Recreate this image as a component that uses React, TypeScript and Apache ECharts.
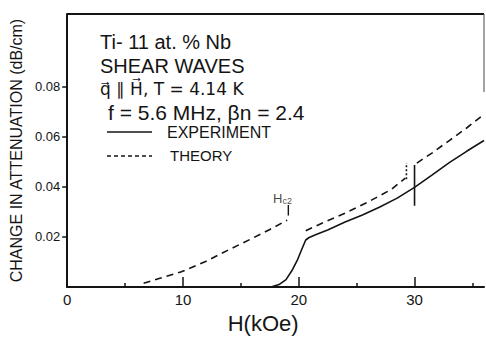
import React, { useEffect, useRef } from 'react';
import * as echarts from 'echarts';

// H (kOe) and change in attenuation (dB/cm)
const expH = [17.6, 18.3, 18.9, 19.4, 19.9, 20.3, 20.6, 20.9, 21.5, 22.5, 24, 25.5, 27, 28.5, 30, 31.5, 33, 34.5, 36];
const expA = [0, 0.001, 0.003, 0.0065, 0.011, 0.0155, 0.0188, 0.0198, 0.021, 0.0228, 0.026, 0.0288, 0.032, 0.0355, 0.0398, 0.0447, 0.0497, 0.0542, 0.0585];

const thH1 = [6.6, 8, 9.8, 12, 14, 16, 17.5, 19];
const thA1 = [0.0015, 0.0035, 0.006, 0.0103, 0.015, 0.0195, 0.023, 0.0267];
const thH2 = [20.6, 22, 24, 26, 28, 29.2];
const thA2 = [0.0225, 0.0255, 0.0295, 0.034, 0.039, 0.0435];
const thH3 = [30.2, 31.5, 33, 34.5, 36];
const thA3 = [0.0495, 0.0535, 0.0585, 0.0635, 0.069];

const hc2H = 19.1;
const hc2Tick = [0.0286, 0.0328];
const hc2Label = [18.6, 0.0352];
const expBarH = 30;
const expBar = [0.0325, 0.0487];
const thBarH = 29.3;
const thBar = [0.043, 0.0495];

const xLabels = [0, 10, 20, 30];
const xMinorTicks = [5, 15, 25, 35];
const xMajorTicks = [10, 20, 30];
const yLabels = [0.02, 0.04, 0.06, 0.08];

const zip = (h: number[], a: number[]) => h.map((x, i) => [x, a[i]]);

const FONT = "'Liberation Sans', Arial, sans-serif";
const SYMFONT = "'DejaVu Sans', 'Liberation Sans', sans-serif";
const INK = '#141414';

export default function App() {
  const ref = useRef<HTMLDivElement>(null);
  useEffect(() => {
    document.body.style.margin = '0';
    const chart = echarts.init(ref.current!, undefined, { renderer: 'svg' });
    const lineSeries = (name: string, data: any[], style: any) => ({
      type: 'line', name, data, symbol: 'none', xAxisIndex: 0, yAxisIndex: 0,
      lineStyle: { color: INK, width: 1.6, ...style }, silent: true,
    });
    chart.setOption({
      animation: false,
      backgroundColor: '#fff',
      textStyle: { fontFamily: FONT, color: INK },
      grid: { left: 67, right: 2, top: 14, bottom: 43 },
      xAxis: [
        {
          type: 'value', min: 0, max: 36, position: 'bottom',
          name: 'H(kOe)', nameLocation: 'middle', nameGap: 17,
          nameTextStyle: { fontSize: 22, color: INK, fontFamily: FONT, padding: [0, 25, 0, 0] },
          axisLine: { show: true, lineStyle: { color: INK, width: 2 } },
          axisTick: { show: true, inside: true, length: 4, customValues: xMinorTicks, lineStyle: { color: INK, width: 1.5 } },
          axisLabel: { show: true, customValues: xLabels, fontSize: 15, margin: 5, color: INK, fontFamily: FONT },
          splitLine: { show: false },
        },
        {
          type: 'value', min: 0, max: 36, position: 'bottom',
          axisLine: { show: false },
          axisTick: { show: true, inside: true, length: 10, customValues: xMajorTicks, lineStyle: { color: INK, width: 1.5 } },
          axisLabel: { show: false },
          splitLine: { show: false },
        },
      ],
      yAxis: {
        type: 'value', min: 0, max: 0.109,
        name: 'CHANGE IN ATTENUATION (dB/cm)', nameLocation: 'middle', nameRotate: 90, nameGap: 37,
        nameTextStyle: { fontSize: 16, color: INK, fontFamily: FONT },
        axisLine: { show: true, lineStyle: { color: INK, width: 2 } },
        axisTick: { show: true, inside: false, length: 5, customValues: yLabels, lineStyle: { color: INK, width: 1.5 } },
        axisLabel: { show: true, customValues: yLabels, fontSize: 13, margin: 7, color: INK, fontFamily: FONT, formatter: (v: number) => v.toFixed(2) },
        splitLine: { show: false },
      },
      series: [
        lineSeries('EXPERIMENT', zip(expH, expA), { type: 'solid' }),
        lineSeries('THEORY', zip(thH1, thA1), { type: [7, 5] }),
        lineSeries('THEORY', zip(thH2, thA2), { type: [7, 5] }),
        lineSeries('THEORY', zip(thH3, thA3), { type: [7, 5] }),
        lineSeries('Hc2 mark', [[hc2H, hc2Tick[0]], [hc2H, hc2Tick[1]]], { width: 1.4 }),
        lineSeries('EXPERIMENT bar', [[expBarH, expBar[0]], [expBarH, expBar[1]]], { width: 1.6 }),
        lineSeries('THEORY bar', [[thBarH, thBar[0]], [thBarH, thBar[1]]], { width: 1.6, type: [2, 2] }),
        {
          type: 'scatter', data: [hc2Label], symbolSize: 0, silent: true,
          itemStyle: { color: INK },
          label: {
            show: true, position: 'inside', formatter: '{a|H}{b|c2}', color: INK,
            rich: {
              a: { fontSize: 13, color: INK, fontFamily: FONT },
              b: { fontSize: 9, color: INK, fontFamily: FONT, verticalAlign: 'bottom', padding: [5, 0, 0, 0] },
            },
          },
        },
      ],
      graphic: [
        { type: 'line', shape: { x1: 67, y1: 14, x2: 484, y2: 14 }, style: { stroke: INK, lineWidth: 2 } },
        { type: 'line', shape: { x1: 484, y1: 14, x2: 484, y2: 92 }, style: { stroke: '#666', lineWidth: 1.2 } },
        { type: 'text', left: 100, top: 32, style: { text: 'Ti- 11 at. % Nb', fontSize: 20, fill: INK, fontFamily: FONT } },
        { type: 'text', left: 100, top: 56, style: { text: 'SHEAR WAVES', fontSize: 20, fill: INK, fontFamily: FONT } },
        { type: 'text', left: 100, top: 80, style: { text: 'q\u20D7 \u2225 H\u20D7, T = 4.14 K', fontSize: 17, fill: INK, fontFamily: SYMFONT } },
        { type: 'text', left: 108, top: 102, style: { text: 'f = 5.6 MHz, \u03B2n = 2.4', fontSize: 21, fill: INK, fontFamily: FONT } },
        { type: 'line', shape: { x1: 107, y1: 132, x2: 152, y2: 132 }, style: { stroke: INK, lineWidth: 1.6 } },
        { type: 'text', left: 167, top: 124, style: { text: 'EXPERIMENT', fontSize: 16, fill: INK, fontFamily: FONT } },
        { type: 'line', shape: { x1: 107, y1: 156, x2: 152, y2: 156 }, style: { stroke: INK, lineWidth: 1.6, lineDash: [4, 3] } },
        { type: 'text', left: 170, top: 148, style: { text: 'THEORY', fontSize: 15, fill: INK, fontFamily: FONT } },
      ],
    });
    return () => chart.dispose();
  }, []);
  return <div ref={ref} style={{ width: 486, height: 339 }} />;
}
